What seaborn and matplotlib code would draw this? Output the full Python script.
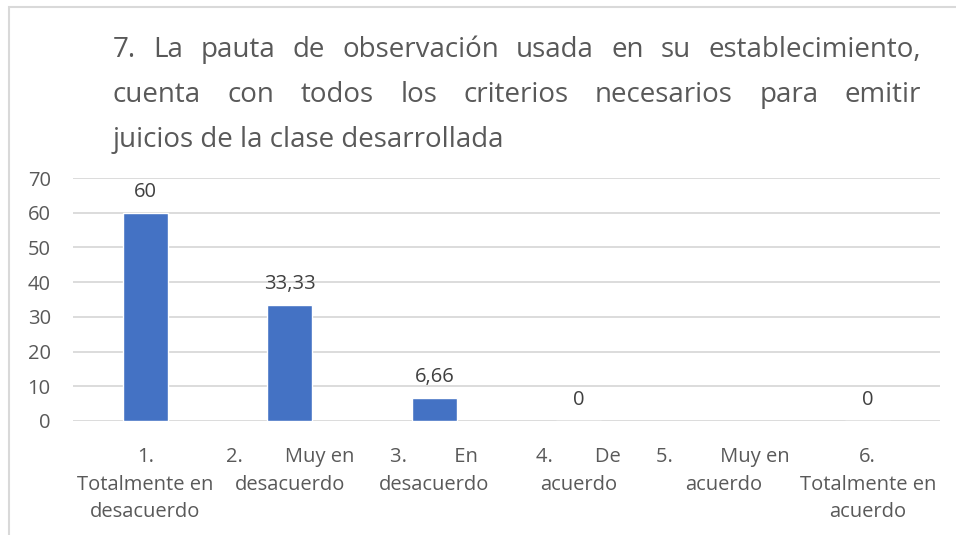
import matplotlib
matplotlib.use('Agg')
import matplotlib.pyplot as plt
import seaborn as sns
import numpy as np
from matplotlib.patches import Rectangle

# Data
categories = ['1.\nTotalmente en\ndesacuerdo',
              '2.        Muy en\ndesacuerdo',
              '3.         En\ndesacuerdo',
              '4.        De\nacuerdo',
              '5.         Muy en\nacuerdo',
              '6.\nTotalmente en\nacuerdo']
values = [60, 33.33, 6.66, 0, np.nan, 0]
value_labels = ['60', '33,33', '6,66', '0', '', '0']
yticks = [0, 10, 20, 30, 40, 50, 60, 70]

title_lines = ['7. La pauta de observación usada en su establecimiento,',
               'cuenta con todos los criterios necesarios para emitir',
               'juicios de la clase desarrollada']

sns.set_style('white')
plt.rcParams['font.family'] = ['Open Sans', 'DejaVu Sans']

W, H = 956, 535
fig = plt.figure(figsize=(W / 100, H / 100), dpi=100)
ax = fig.add_axes([73 / W, 1 - 421 / H, (940 - 73) / W, (421 - 178) / H])

sns.barplot(x=categories, y=values, order=categories, color='#4472C4',
            saturation=1, width=0.31, ax=ax)

ax.set_ylim(0, 70)
ax.set_yticks(yticks)
ax.set_yticklabels([str(t) for t in yticks])
ax.yaxis.grid(True, color='#D9D9D9', linewidth=1.3)
ax.set_axisbelow(True)
for s in ax.spines.values():
    s.set_visible(False)
ax.tick_params(axis='y', length=0, pad=16, labelsize=14.5, labelcolor='#595959')
ax.tick_params(axis='x', length=0, pad=19, labelsize=14.5, labelcolor='#595959')
for lab in ax.get_xticklabels():
    lab.set_linespacing(1.5)
ax.set_xlabel('')
ax.set_ylabel('')

# data labels
for i, (v, t) in enumerate(zip(values, value_labels)):
    if np.isnan(v):
        continue
    ax.annotate(t, (i, v), xytext=(0, 8), textcoords='offset points',
                ha='center', va='bottom', fontsize=14.5, color='#404040')

# chart frame
fig.patches.append(Rectangle((9 / W, -0.1), 1.2, 1.1 - 7 / H, transform=fig.transFigure,
                             fill=False, edgecolor='#D9D9D9', linewidth=1.5))

# justified title
x0, x1 = 113, 921
baselines = [57, 102, 147]
renderer = fig.canvas.get_renderer()
for k, line in enumerate(title_lines):
    y = 1 - baselines[k] / H
    if k == len(title_lines) - 1:
        fig.text(x0 / W, y, line, fontsize=20, color='#595959', va='baseline', ha='left')
        continue
    words = line.split(' ')
    texts = [fig.text(0, y, w, fontsize=20, color='#595959', va='baseline', ha='left')
             for w in words]
    widths = [t.get_window_extent(renderer).width for t in texts]
    gap = (x1 - x0 - sum(widths)) / (len(words) - 1)
    x = x0
    for t, w in zip(texts, widths):
        t.set_x(x / W)
        x += w + gap

fig.savefig('out.png', dpi=100)
